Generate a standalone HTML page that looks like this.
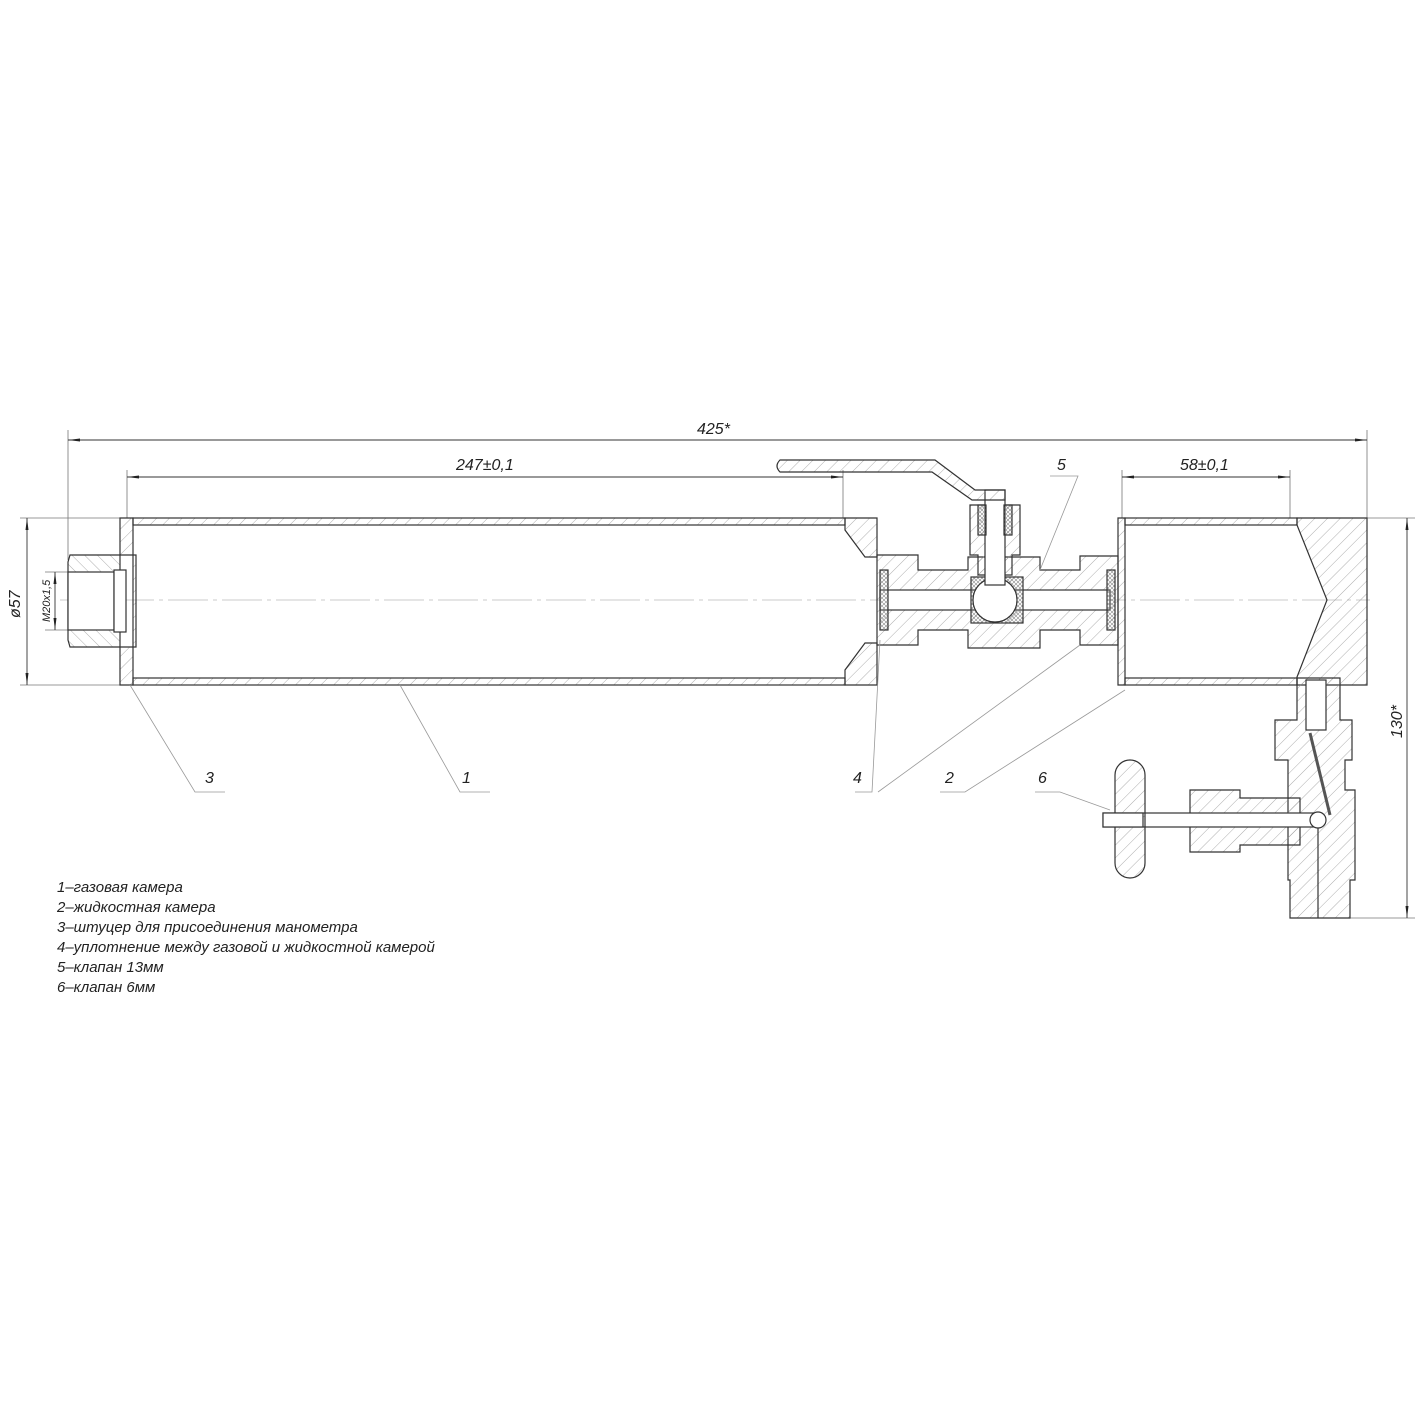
<!DOCTYPE html>
<html><head><meta charset="utf-8"><style>
html,body{margin:0;padding:0;background:#fff}
svg{display:block}
text{font-family:"Liberation Sans",sans-serif;font-style:italic;fill:#222}
</style></head><body>
<svg width="1417" height="1417" viewBox="0 0 1417 1417" xmlns="http://www.w3.org/2000/svg">
<defs>
<pattern id="h" width="9" height="9" patternUnits="userSpaceOnUse" patternTransform="rotate(45)">
<line x1="0" y1="0" x2="0" y2="9" stroke="#999" stroke-width="0.8"/></pattern>
<pattern id="h2" width="9" height="9" patternUnits="userSpaceOnUse" patternTransform="rotate(-45)">
<line x1="0" y1="0" x2="0" y2="9" stroke="#999" stroke-width="0.8"/></pattern>
<pattern id="x" width="4" height="4" patternUnits="userSpaceOnUse">
<path d="M0 0L4 4M4 0L0 4" stroke="#888" stroke-width="0.6"/></pattern>
<marker id="a" markerWidth="12" markerHeight="6" refX="12" refY="3" orient="auto-start-reverse" markerUnits="userSpaceOnUse"><path d="M0 1.5L12 3L0 4.5z" fill="#222"/></marker>
</defs>
<g stroke="#333" stroke-width="1.2" fill="none">
<g stroke="#777" stroke-width="0.8">
<line x1="68" y1="430" x2="68" y2="560"/><line x1="1367" y1="430" x2="1367" y2="518"/>
<line x1="127" y1="470" x2="127" y2="518"/><line x1="843" y1="470" x2="843" y2="518"/>
<line x1="1122" y1="470" x2="1122" y2="518"/><line x1="1290" y1="470" x2="1290" y2="518"/>
<line x1="20" y1="518" x2="127" y2="518"/><line x1="20" y1="685" x2="127" y2="685"/>
<line x1="45" y1="572" x2="70" y2="572"/><line x1="45" y1="630" x2="70" y2="630"/>
<line x1="1367" y1="518" x2="1415" y2="518"/><line x1="1350" y1="918" x2="1415" y2="918"/>
</g>
<g stroke="#333" stroke-width="0.9">
<line x1="68" y1="440" x2="1367" y2="440" marker-start="url(#a)" marker-end="url(#a)"/>
<line x1="127" y1="477" x2="843" y2="477" marker-start="url(#a)" marker-end="url(#a)"/>
<line x1="1122" y1="477" x2="1290" y2="477" marker-start="url(#a)" marker-end="url(#a)"/>
<line x1="27" y1="518" x2="27" y2="685" marker-start="url(#a)" marker-end="url(#a)"/>
<line x1="55" y1="572" x2="55" y2="630" marker-start="url(#a)" marker-end="url(#a)"/>
<line x1="1407" y1="518" x2="1407" y2="918" marker-start="url(#a)" marker-end="url(#a)"/>
</g>
<line x1="60" y1="600" x2="1370" y2="600" stroke="#bbb" stroke-width="0.8" stroke-dasharray="40 5 4 5"/>
<rect x="133" y="518" width="712" height="7" fill="url(#h)"/>
<rect x="133" y="678" width="712" height="7" fill="url(#h)"/>
<path d="M120 518H133V685H120V647H136V555H120Z" fill="url(#h)"/>
<path d="M70 555H120V647H70L68 640V562Z" fill="url(#h2)"/>
<rect x="68" y="572" width="46" height="58" fill="#fff"/>
<rect x="114" y="570" width="12" height="62" fill="#fff"/>
<path d="M845 518H877V557H865L845 530Z" fill="url(#h)"/>
<path d="M845 685H877V643H865L845 670Z" fill="url(#h)"/>
<path d="M877 555H918V570H968V557H1040V570H1080V556H1118V645H1080V630H1040V648H968V630H918V645H877Z" fill="url(#h)"/>
<rect x="880" y="590" width="230" height="20" fill="#fff"/>
<rect x="880" y="570" width="8" height="60" fill="url(#x)"/>
<rect x="1107" y="570" width="8" height="60" fill="url(#x)"/>
<rect x="971" y="577" width="52" height="46" fill="url(#x)"/>
<circle cx="995" cy="600" r="22" fill="#fff"/>
<path d="M970 505H1020V555H1012V575H978V555H970Z" fill="url(#h)"/>
<rect x="985" y="490" width="20" height="95" fill="#fff"/>
<rect x="978" y="505" width="8" height="30" fill="url(#x)"/>
<rect x="1004" y="505" width="8" height="30" fill="url(#x)"/>
<path d="M780 460H935L975 490H1005V500H972L932 472H780Q774 466 780 460Z" fill="url(#h)"/>
<rect x="1125" y="518" width="172" height="7" fill="url(#h)"/>
<rect x="1125" y="678" width="172" height="7" fill="url(#h)"/>
<path d="M1118 518H1125V685H1118Z" fill="url(#h)"/>
<path d="M1297 518H1367V685H1297V677L1327 600L1297 525Z" fill="url(#h)"/>
<path d="M1297 678H1340V720H1352V760H1345V790H1355V880H1350V918H1290V880H1288V760H1275V720H1297Z" fill="url(#h)"/>
<rect x="1306" y="680" width="20" height="50" fill="#fff"/>
<line x1="1310" y1="733" x2="1330" y2="815" stroke-width="3" stroke="#555"/>
<line x1="1318" y1="820" x2="1318" y2="918"/>
<path d="M1190 790H1240V798H1300V845H1240V852H1190Z" fill="url(#h)"/>
<rect x="1103" y="813" width="215" height="14" fill="#fff"/>
<circle cx="1318" cy="820" r="8" fill="#fff"/>
<rect x="1115" y="760" width="30" height="118" rx="15" fill="url(#h)"/>
<rect x="1103" y="813" width="40" height="14" fill="#fff"/>
<g stroke="#999" stroke-width="0.8">
<path d="M130 685L195 792H225"/><path d="M400 685L460 792H490"/>
<path d="M880 640L872 792H855"/><path d="M1080 645L878 792"/>
<path d="M1125 690L965 792H940"/><path d="M1110 810L1060 792H1035"/>
<path d="M1040 570L1078 476H1050"/>
</g>
</g>
<g font-size="16">
<text x="697" y="434">425*</text>
<text x="456" y="470">247±0,1</text>
<text x="1180" y="470">58±0,1</text>
<text x="1057" y="470">5</text>
<text x="205" y="783">3</text><text x="462" y="783">1</text>
<text x="853" y="783">4</text><text x="945" y="783">2</text><text x="1038" y="783">6</text>
<text transform="translate(20,618) rotate(-90)">ø57</text>
<text font-size="11" transform="translate(50,622) rotate(-90)">M20x1,5</text>
<text transform="translate(1402,738) rotate(-90)">130*</text>
</g>
<g font-size="15">
<text x="57" y="892">1–газовая камера</text>
<text x="57" y="912">2–жидкостная камера</text>
<text x="57" y="932">3–штуцер для присоединения манометра</text>
<text x="57" y="952">4–уплотнение между газовой и жидкостной камерой</text>
<text x="57" y="972">5–клапан 13мм</text>
<text x="57" y="992">6–клапан 6мм</text>
</g>
</svg>
</body></html>
